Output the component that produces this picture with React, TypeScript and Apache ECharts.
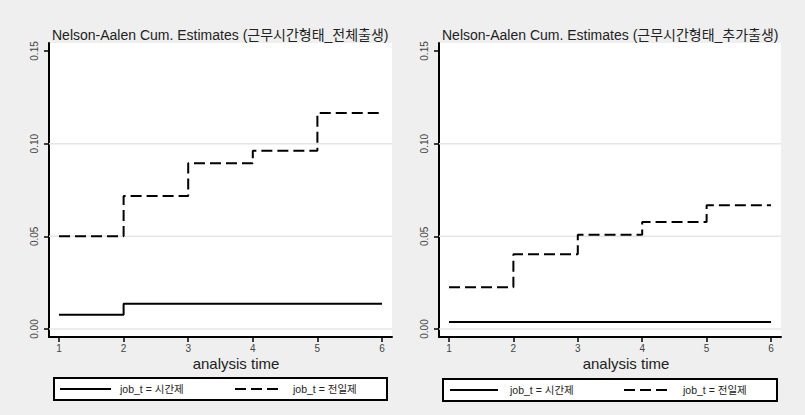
import React, { useEffect, useRef } from "react";
import * as echarts from "echarts";

// Analysis time points (x axis)
const times = [1, 2, 3, 4, 5, 6];

// Nelson-Aalen cumulative hazard, level held from each time point onward
// Panel 1: 근무시간형태_전체출생
const partTimeAll = [0.0077, 0.0137, 0.0137, 0.0137, 0.0137, 0.0137];
const fullTimeAll = [0.05, 0.0718, 0.0894, 0.0962, 0.1165, 0.1165];
// Panel 2: 근무시간형태_추가출생
const partTimeAdd = [0.0038, 0.0038, 0.0038, 0.0038, 0.0038, 0.0038];
const fullTimeAdd = [0.0225, 0.0403, 0.0508, 0.0578, 0.0668, 0.0668];

// Axis ticks and horizontal grid lines
const yTicks = [0, 0.05, 0.1, 0.15];
const yGridLines = [0, 0.05, 0.1];

const panelTitles = [
  "Nelson-Aalen Cum. Estimates (근무시간형태_전체출생)",
  "Nelson-Aalen Cum. Estimates (근무시간형태_추가출생)",
];
const legendLabels = ["job_t = 시간제", "job_t = 전일제"];
const xAxisTitle = "analysis time";

const FONT = '"Liberation Sans", "Noto Sans CJK KR", sans-serif';
const X_MIN = 0.845;
const X_MAX = 6.155;
const Y_MIN = -0.0043;
const Y_MAX = 0.1543;
const DASH = [11, 5];

export default function App() {
  const ref = useRef<HTMLDivElement>(null);

  useEffect(() => {
    document.body.style.margin = "0";
    if (!ref.current) return;
    const chart = echarts.init(ref.current, null, { renderer: "svg" });

    const grids = [
      { left: 49, top: 43, width: 343, height: 294 },
      { left: 439, top: 43, width: 342, height: 294 },
    ];

    const axisLineStyle = { color: "#000", width: 2 };

    const xAxes = grids.map((_, i) => ({
      type: "value",
      gridIndex: i,
      min: X_MIN,
      max: X_MAX,
      axisLine: { show: true, onZero: false, lineStyle: axisLineStyle },
      axisTick: { show: true, length: 5, customValues: times, lineStyle: { color: "#000", width: 1.5 } },
      axisLabel: {
        customValues: times,
        margin: 6,
        fontSize: 10,
        color: "#444",
        fontFamily: FONT,
      },
      splitLine: { show: false },
    }));

    const yAxes = grids.map((_, i) => ({
      type: "value",
      gridIndex: i,
      min: Y_MIN,
      max: Y_MAX,
      axisLine: { show: true, onZero: false, lineStyle: axisLineStyle },
      axisTick: { show: true, length: 5, customValues: yTicks, lineStyle: { color: "#000", width: 1.5 } },
      axisLabel: {
        customValues: yTicks,
        rotate: 90,
        margin: 10,
        fontSize: 10,
        color: "#444",
        fontFamily: FONT,
        formatter: (v: number) => v.toFixed(2),
      },
      splitLine: { show: false },
    }));

    const toPoints = (vals: number[]) => times.map((t, k) => [t, vals[k]]);

    const gridSeries: any[] = [];
    grids.forEach((_, i) => {
      yGridLines.forEach((g) => {
        gridSeries.push({
          type: "line",
          xAxisIndex: i,
          yAxisIndex: i,
          data: [
            [X_MIN, g],
            [X_MAX, g],
          ],
          symbol: "none",
          silent: true,
          z: 1,
          lineStyle: { color: "#e6e6e6", width: 1.5 },
        });
      });
    });

    const panels = [
      [partTimeAll, fullTimeAll],
      [partTimeAdd, fullTimeAdd],
    ];
    const curveSeries: any[] = [];
    panels.forEach(([part, full], i) => {
      curveSeries.push({
        name: legendLabels[0],
        type: "line",
        xAxisIndex: i,
        yAxisIndex: i,
        step: "end",
        data: toPoints(part),
        symbol: "none",
        z: 3,
        lineStyle: { color: "#000", width: 2, type: "solid" },
      });
      curveSeries.push({
        name: legendLabels[1],
        type: "line",
        xAxisIndex: i,
        yAxisIndex: i,
        step: "end",
        data: toPoints(full),
        symbol: "none",
        z: 3,
        lineStyle: { color: "#000", width: 2, type: DASH },
      });
    });

    // Titles, axis titles and legend boxes for both panels
    const legendBoxes = [
      { x: 54, y: 378, w: 333, solid: [60, 111], dash: [235, 279], t1: 120, t2: 293 },
      { x: 443, y: 379, w: 334, solid: [450, 498], dash: [624, 668], t1: 510, t2: 683 },
    ];
    const titleX = [52, 442];
    const axisTitleX = [236, 626];

    const graphics: any[] = [];
    panelTitles.forEach((t, i) => {
      graphics.push({
        type: "text",
        x: titleX[i],
        y: 35,
        style: {
          text: t,
          fill: "#222",
          font: `14px ${FONT}`,
          textAlign: "left",
          textVerticalAlign: "middle",
        },
      });
      graphics.push({
        type: "text",
        x: axisTitleX[i],
        y: 363,
        style: {
          text: xAxisTitle,
          fill: "#222",
          font: `15px ${FONT}`,
          textAlign: "center",
          textVerticalAlign: "middle",
        },
      });
      const b = legendBoxes[i];
      const cy = b.y + 11;
      graphics.push({
        type: "rect",
        shape: { x: b.x, y: b.y, width: b.w, height: 22 },
        style: { fill: "#fff", stroke: "#000", lineWidth: 2 },
      });
      graphics.push({
        type: "line",
        shape: { x1: b.solid[0], y1: cy, x2: b.solid[1], y2: cy },
        style: { stroke: "#000", lineWidth: 2 },
      });
      graphics.push({
        type: "line",
        shape: { x1: b.dash[0], y1: cy, x2: b.dash[1], y2: cy },
        style: { stroke: "#000", lineWidth: 2, lineDash: DASH },
      });
      graphics.push({
        type: "text",
        x: b.t1,
        y: cy,
        style: {
          text: legendLabels[0],
          fill: "#222",
          font: `10.5px ${FONT}`,
          textAlign: "left",
          textVerticalAlign: "middle",
        },
      });
      graphics.push({
        type: "text",
        x: b.t2,
        y: cy,
        style: {
          text: legendLabels[1],
          fill: "#222",
          font: `10.5px ${FONT}`,
          textAlign: "left",
          textVerticalAlign: "middle",
        },
      });
    });

    chart.setOption({
      animation: false,
      backgroundColor: "#efefef",
      grid: grids.map((g) => ({ ...g, show: true, backgroundColor: "#fff", borderWidth: 0 })),
      xAxis: xAxes,
      yAxis: yAxes,
      series: [...gridSeries, ...curveSeries],
      graphic: graphics,
    });

    return () => chart.dispose();
  }, []);

  return <div ref={ref} style={{ width: 805, height: 415, background: "#efefef" }} />;
}
